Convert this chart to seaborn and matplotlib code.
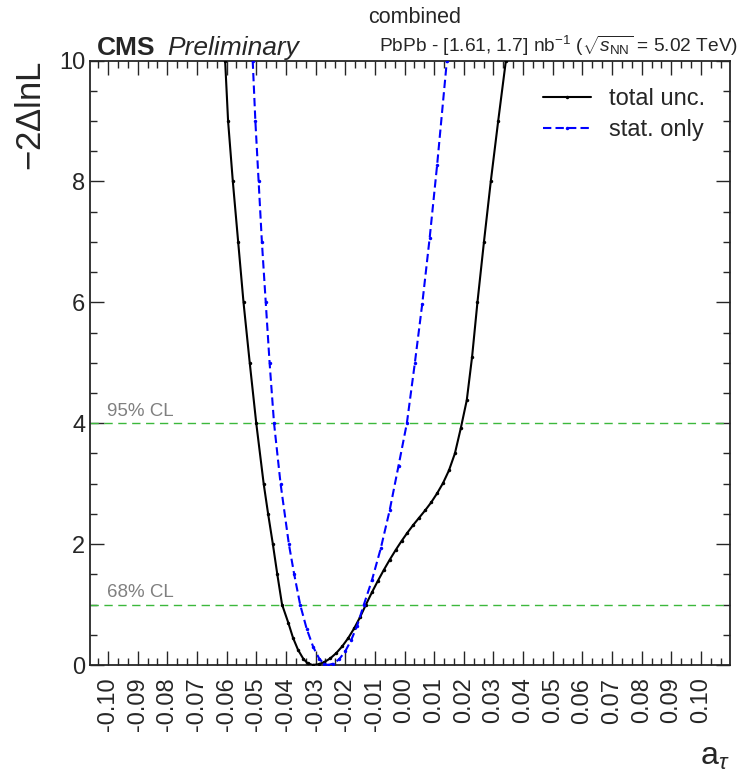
import numpy as np
import pandas as pd
import matplotlib
matplotlib.use("Agg")
import matplotlib.pyplot as plt
from matplotlib.ticker import MultipleLocator, AutoMinorLocator
import seaborn as sns

# ---- data ----
total_a = [-0.0605, -0.0595, -0.0579, -0.0561, -0.0543, -0.0522, -0.0500, -0.0475,
           -0.0460, -0.0444, -0.0429, -0.0413, -0.0392, -0.0376, -0.0359, -0.0341,
           -0.0327, -0.0310, -0.0290, -0.0270, -0.0250, -0.0230, -0.0210, -0.0190,
           -0.0170, -0.0150, -0.0130, -0.0110, -0.0090, -0.0070, -0.0050, -0.0030,
           -0.0010, 0.0010, 0.0030, 0.0050, 0.0070, 0.0090, 0.0110, 0.0130,
           0.0150, 0.0170, 0.0190, 0.0210, 0.0228, 0.0246,
           0.0268, 0.0291, 0.0316, 0.0342]
total_y = [10.0, 9.0, 8.0, 7.0, 6.0, 5.0, 4.0, 3.0,
           2.5, 2.0, 1.5, 1.0, 0.7, 0.45, 0.25, 0.1,
           0.03, 0.0, 0.012, 0.049, 0.111, 0.198, 0.309, 0.444,
           0.605, 0.79, 1.0, 1.2, 1.39, 1.57, 1.74, 1.90,
           2.05, 2.19, 2.32, 2.44, 2.56, 2.69, 2.84, 3.01,
           3.22, 3.50, 3.92, 4.38, 5.1, 6.0,
           7.0, 8.0, 9.0, 10.0]

stat_a = [-0.0512, -0.0503, -0.0492, -0.0481, -0.0468, -0.0455, -0.0440, -0.0418,
          -0.0390, -0.0372, -0.0352, -0.0330, -0.0308, -0.0287, -0.0271, -0.0258,
          -0.0240, -0.0220, -0.0200, -0.0180, -0.0160, -0.0137, -0.0110, -0.0080,
          -0.0050, -0.0020, 0.0008, 0.0035, 0.0060, 0.0085, 0.0110, 0.0143]
stat_y = [10.0, 9.0, 8.0, 7.0, 6.0, 5.0, 4.0, 3.0,
          2.0, 1.5, 1.0, 0.6, 0.3, 0.1, 0.02, 0.0,
          0.022, 0.097, 0.226, 0.41, 0.645, 1.0, 1.40, 1.93,
          2.56, 3.30, 4.0, 5.0, 5.98, 7.07, 8.27, 10.0]

cl_levels = [1.0, 4.0]
cl_labels = ["68% CL", "95% CL"]
series_labels = ["total unc.", "stat. only"]
xtick_vals = [round(-0.10 + 0.01 * i, 2) for i in range(21)]

# ---- style ----
sns.set_style("ticks")
plt.rcParams["font.family"] = ["Liberation Sans", "DejaVu Sans"]
plt.rcParams["mathtext.fontset"] = "custom"
plt.rcParams["mathtext.rm"] = "Liberation Sans"
plt.rcParams["mathtext.it"] = "Liberation Sans:italic"
plt.rcParams["mathtext.bf"] = "Liberation Sans:bold"
plt.rcParams["axes.unicode_minus"] = False

fig = plt.figure(figsize=(7.41, 7.73), dpi=100)
ax = fig.add_axes([90 / 741, 1 - 665 / 773, (730 - 90) / 741, (665 - 60.5) / 773])

df_tot = pd.DataFrame({"a": total_a, "y": total_y})
df_stat = pd.DataFrame({"a": stat_a, "y": stat_y})

for lvl in cl_levels:
    ax.axhline(lvl, color="#3cb83c", lw=1.0, ls=(0, (6, 4)), zorder=1)

sns.lineplot(data=df_tot, x="a", y="y", ax=ax, color="black", lw=1.5,
             marker="o", markersize=2.5, markeredgewidth=0, label=series_labels[0],
             zorder=3)
sns.lineplot(data=df_stat, x="a", y="y", ax=ax, color="#0000ff", lw=1.5,
             ls=(0, (4, 2)), marker="o", markersize=2.5, markeredgewidth=0,
             label=series_labels[1], zorder=4)

xmin = -0.10 - (108 - 90) / 2965
xmax = 0.10 + (730 - 701) / 2965
ax.set_xlim(xmin, xmax)
ax.set_ylim(0, 10)

ax.set_xticks(xtick_vals)
ax.set_xticklabels([f"{v:.2f}" for v in xtick_vals], rotation=90, fontsize=17)
ax.xaxis.set_minor_locator(AutoMinorLocator(3))
ax.yaxis.set_major_locator(MultipleLocator(2))
ax.yaxis.set_minor_locator(MultipleLocator(0.5))
ax.tick_params(axis="y", labelsize=17)
ax.tick_params(axis="x", which="major", pad=9)
ax.tick_params(which="both", direction="in", top=True, right=True, width=1.0)
ax.tick_params(which="major", length=10)
ax.tick_params(which="minor", length=5)
for s in ax.spines.values():
    s.set_linewidth(1.3)
    s.set_visible(True)

ax.set_xlabel(r"a$_{\tau}$", fontsize=23, loc="right", labelpad=8)
ax.set_ylabel(r"$-$2$\Delta$lnL", fontsize=25, loc="top", labelpad=8)

for lvl, lab in zip(cl_levels, cl_labels):
    ax.text(xmin + 0.0058, lvl + 0.06, lab, color="#808080", fontsize=13.5,
            ha="left", va="bottom")

leg = ax.legend(loc="upper right", frameon=False, fontsize=17,
                handlelength=2.0, handletextpad=0.8,
                bbox_to_anchor=(0.995, 0.99), labelspacing=0.4)

fig.text(97 / 741, 1 - 55 / 773, "CMS", fontsize=19, fontweight="bold", ha="left", va="baseline")
fig.text(167 / 741, 1 - 55 / 773, "Preliminary", fontsize=19, style="italic", ha="left", va="baseline")
fig.text(415 / 741, 1 - 23 / 773, "combined", fontsize=15.5, ha="center", va="baseline")
fig.text(738 / 741, 1 - 52 / 773,
         r"PbPb - [1.61, 1.7] nb$^{-1}$ ($\sqrt{s_{\mathrm{NN}}}$ = 5.02 TeV)",
         fontsize=13.8, ha="right", va="baseline")

fig.savefig("out.png", dpi=100)
